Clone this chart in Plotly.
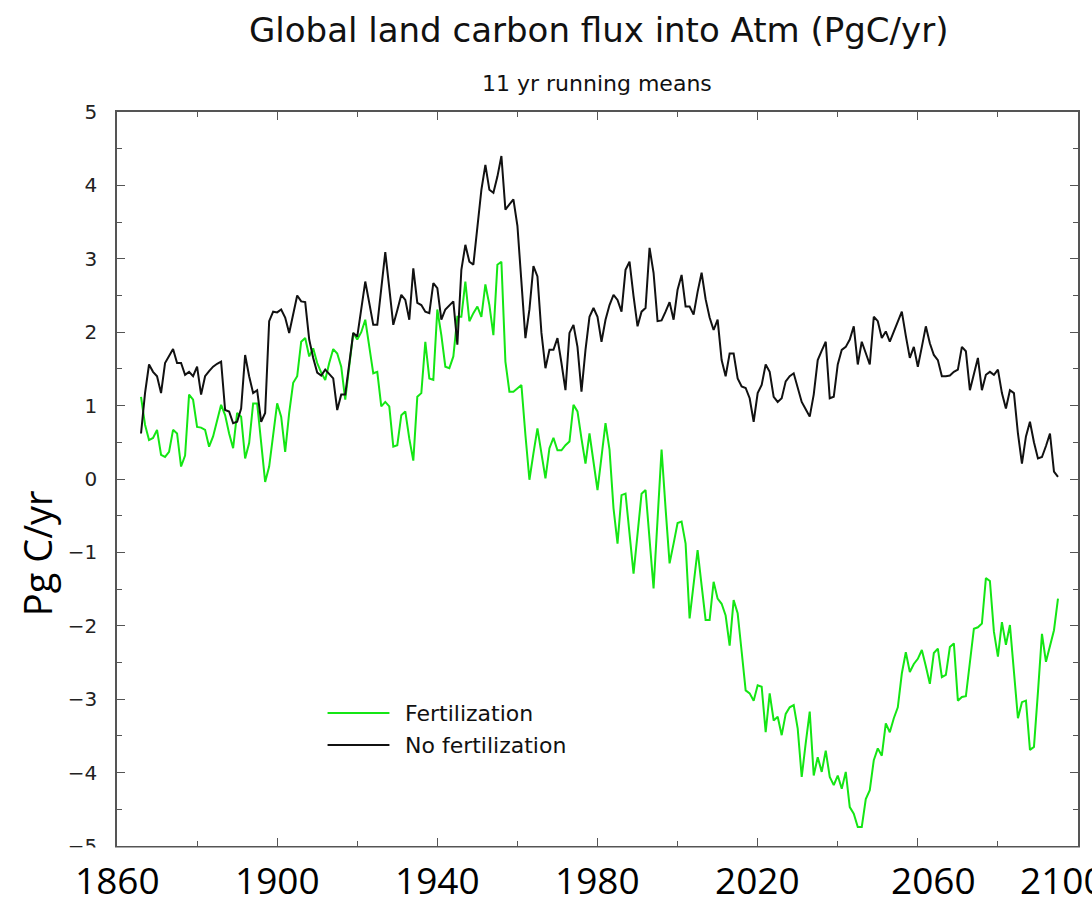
import plotly.graph_objects as go

# Annual values of the 11-yr running mean, 1866-2095 (PgC/yr, positive = into atmosphere)
years = list(range(1866, 2096))

no_fertilization = [
    0.62, 1.17, 1.56, 1.46,
    1.40, 1.17, 1.58, 1.68, 1.77, 1.58, 1.58, 1.42, 1.46, 1.40,
    1.53, 1.15, 1.40, 1.47, 1.53, 1.57, 1.60, 0.94, 0.92, 0.76,
    0.78, 0.96, 1.69, 1.40, 1.17, 1.21, 0.78, 0.90, 2.15, 2.28,
    2.27, 2.31, 2.20, 1.99, 2.25, 2.50, 2.42, 2.41, 1.90, 1.65,
    1.45, 1.41, 1.49, 1.43, 1.37, 0.94, 1.15, 1.15, 1.60, 1.99,
    1.94, 2.30, 2.69, 2.40, 2.10, 2.10, 2.60, 3.09, 2.60, 2.10,
    2.30, 2.51, 2.44, 2.17, 2.87, 2.40, 2.37, 2.28, 2.26, 2.67,
    2.60, 2.17, 2.31, 2.37, 2.42, 1.83, 2.85, 3.19, 2.96, 2.92,
    3.40, 3.94, 4.28, 3.94, 3.90, 4.12, 4.40, 3.67, 3.74, 3.81,
    3.45, 2.70, 1.92, 2.31, 2.90, 2.76, 1.99, 1.51, 1.76, 1.76,
    1.92, 1.58, 1.21, 1.99, 2.10, 1.80, 1.19, 1.76, 2.21, 2.33,
    2.21, 1.87, 2.17, 2.37, 2.51, 2.44, 2.28, 2.85, 2.96, 2.49,
    2.08, 2.28, 2.33, 3.15, 2.81, 2.15, 2.16, 2.28, 2.41, 2.17,
    2.58, 2.78, 2.35, 2.35, 2.24, 2.55, 2.81, 2.45, 2.20, 2.03,
    2.17, 1.62, 1.40, 1.71, 1.71, 1.37, 1.26, 1.24, 1.10, 0.78,
    1.17, 1.28, 1.56, 1.46, 1.12, 1.05, 1.10, 1.33, 1.40, 1.44,
    1.24, 1.05, 0.95, 0.85, 1.15, 1.62, 1.75, 1.87, 1.10, 1.12,
    1.56, 1.76, 1.80, 1.90, 2.08, 1.56, 1.87, 1.70, 1.56, 2.21,
    2.15, 1.92, 2.01, 1.87, 2.00, 2.15, 2.28, 1.95, 1.65, 1.80,
    1.53, 1.80, 2.08, 1.85, 1.69, 1.62, 1.40, 1.40, 1.41, 1.46,
    1.49, 1.80, 1.74, 1.21, 1.45, 1.65, 1.21, 1.42, 1.46, 1.42,
    1.49, 1.17, 0.96, 1.21, 1.17, 0.62, 0.21, 0.58, 0.78, 0.50,
    0.28, 0.30, 0.45, 0.62, 0.10, 0.03,
]

fertilization = [
    1.12, 0.74, 0.53, 0.56,
    0.67, 0.33, 0.30, 0.37, 0.67, 0.62, 0.17, 0.32, 1.15, 1.08,
    0.71, 0.70, 0.67, 0.44, 0.58, 0.80, 1.01, 0.87, 0.62, 0.42,
    0.90, 0.85, 0.28, 0.49, 1.03, 1.03, 0.50, -0.04, 0.17, 0.60,
    1.03, 0.85, 0.37, 0.90, 1.31, 1.40, 1.87, 1.92, 1.67, 1.78,
    1.58, 1.45, 1.35, 1.58, 1.77, 1.71, 1.53, 1.08, 1.55, 1.99,
    1.90, 2.00, 2.17, 1.80, 1.44, 1.46, 0.99, 1.05, 0.99, 0.44,
    0.46, 0.87, 0.92, 0.55, 0.25, 1.12, 1.17, 1.87, 1.37, 1.35,
    2.31, 1.96, 1.53, 1.51, 1.67, 2.21, 2.21, 2.69, 2.15, 2.26,
    2.35, 2.21, 2.65, 2.37, 1.96, 2.92, 2.96, 1.60, 1.19, 1.19,
    1.24, 1.28, 0.60, -0.01, 0.35, 0.69, 0.35, 0.01, 0.42, 0.56,
    0.39, 0.39, 0.46, 0.51, 1.01, 0.92, 0.55, 0.21, 0.62, 0.25,
    -0.15, 0.30, 0.76, 0.40, -0.40, -0.88, -0.22, -0.20, -0.75, -1.29,
    -0.75, -0.20, -0.15, -0.80, -1.49, -0.55, 0.40, -0.40, -1.15, -0.88,
    -0.60, -0.58, -0.88, -1.90, -1.40, -0.97, -1.45, -1.92, -1.92, -1.40,
    -1.63, -1.70, -1.86, -2.27, -1.65, -1.83, -2.35, -2.88, -2.92, -3.02,
    -2.81, -2.83, -3.45, -2.92, -3.29, -3.24, -3.49, -3.20, -3.11, -3.08,
    -3.40, -4.06, -3.60, -3.17, -4.04, -3.79, -3.99, -3.70, -4.06, -4.17,
    -4.04, -4.22, -3.99, -4.47, -4.56, -4.74, -4.74, -4.36, -4.24, -3.83,
    -3.67, -3.77, -3.33, -3.45, -3.26, -3.11, -2.65, -2.36, -2.63, -2.52,
    -2.45, -2.33, -2.55, -2.79, -2.37, -2.31, -2.70, -2.67, -2.29, -2.24,
    -3.02, -2.97, -2.96, -2.50, -2.04, -2.02, -1.97, -1.35, -1.39, -2.08,
    -2.42, -1.95, -2.26, -1.99, -2.60, -3.26, -3.04, -3.02, -3.69, -3.65,
    -2.90, -2.11, -2.49, -2.28, -2.06, -1.63,
]

year_ticks = [1860, 1900, 1940, 1980, 2020, 2060, 2100]
year_tick_shift = [0, 0, 0, 0, 0, 16, -16]
series_names = ["Fertilization", "No fertilization"]
series_colors = ["#14e614", "#111111"]

# page geometry (px)
W, H = 1092, 905
L, R, T, B = 117, 12, 112, 59
PW, PH = W - L - R, H - T - B


def px_x(px):
    return (px - L) / PW


def px_y(py):
    return (H - B - py) / PH


fig = go.Figure()
for name, vals, col in zip(series_names, [fertilization, no_fertilization], series_colors):
    fig.add_trace(go.Scatter(
        x=years, y=vals, mode="lines", name=name,
        line=dict(color=col, width=2), showlegend=False,
    ))

axis_common = dict(
    showline=True, linecolor="#555555", linewidth=1.5, mirror="allticks",
    ticks="inside", ticklen=8, tickwidth=1.2, tickcolor="#555555",
    showgrid=False, zeroline=False,
)

fig.update_xaxes(
    range=[1860, 2100], tick0=1860, dtick=40, showticklabels=False,
    minor=dict(dtick=20, ticks="inside", ticklen=5, tickcolor="#555555", tickwidth=1.2),
    **axis_common,
)
fig.update_yaxes(
    range=[-5, 5], tick0=0, dtick=1,
    minor=dict(dtick=0.5, ticks="inside", ticklen=5, tickcolor="#555555", tickwidth=1.2),
    tickfont=dict(family="DejaVu Sans", size=20, color="#222222"),
    ticklabelstandoff=14,
    **axis_common,
)

shapes = [
    # strip below the frame holding the large year labels
    dict(type="rect", xref="paper", yref="paper", layer="above",
         x0=px_x(-5), x1=px_x(W + 5), y0=px_y(H + 5), y1=px_y(847.5),
         fillcolor="white", line=dict(width=0)),
]

annotations = [
    dict(text="Global land carbon flux into Atm (PgC/yr)", xref="paper", yref="paper",
         x=px_x(600), y=px_y(30), showarrow=False, xanchor="center", yanchor="middle",
         font=dict(family="DejaVu Sans", size=34, color="#111111")),
    dict(text="11 yr running means", xref="paper", yref="paper",
         x=px_x(598), y=px_y(83), showarrow=False, xanchor="center", yanchor="middle",
         font=dict(family="DejaVu Sans", size=22, color="#111111")),
    dict(text="Pg C/yr", xref="paper", yref="paper", textangle=-90,
         x=px_x(37), y=px_y(553), showarrow=False, xanchor="center", yanchor="middle",
         font=dict(family="Open Sans", size=38, color="#000000")),
]

for yr, shift in zip(year_ticks, year_tick_shift):
    annotations.append(dict(
        text=str(yr), xref="x", yref="paper", x=yr, xshift=shift, y=px_y(880),
        showarrow=False, xanchor="center", yanchor="middle",
        font=dict(family="Open Sans", size=37, color="#000000"),
    ))

# key drawn inside the frame
legend_rows_y = [713, 745]
for name, col, ly in zip(series_names, series_colors, legend_rows_y):
    shapes.append(dict(type="line", xref="paper", yref="paper",
                       x0=px_x(328), x1=px_x(390), y0=px_y(ly), y1=px_y(ly),
                       line=dict(color=col, width=2)))
    annotations.append(dict(text=name, xref="paper", yref="paper",
                            x=px_x(404), y=px_y(ly), showarrow=False,
                            xanchor="left", yanchor="middle",
                            font=dict(family="DejaVu Sans", size=22, color="#111111")))

fig.update_layout(
    width=W, height=H,
    margin=dict(l=L, r=R, t=T, b=B, pad=0),
    paper_bgcolor="white", plot_bgcolor="white",
    shapes=shapes, annotations=annotations,
    showlegend=False,
)

fig.write_html("out.html")
